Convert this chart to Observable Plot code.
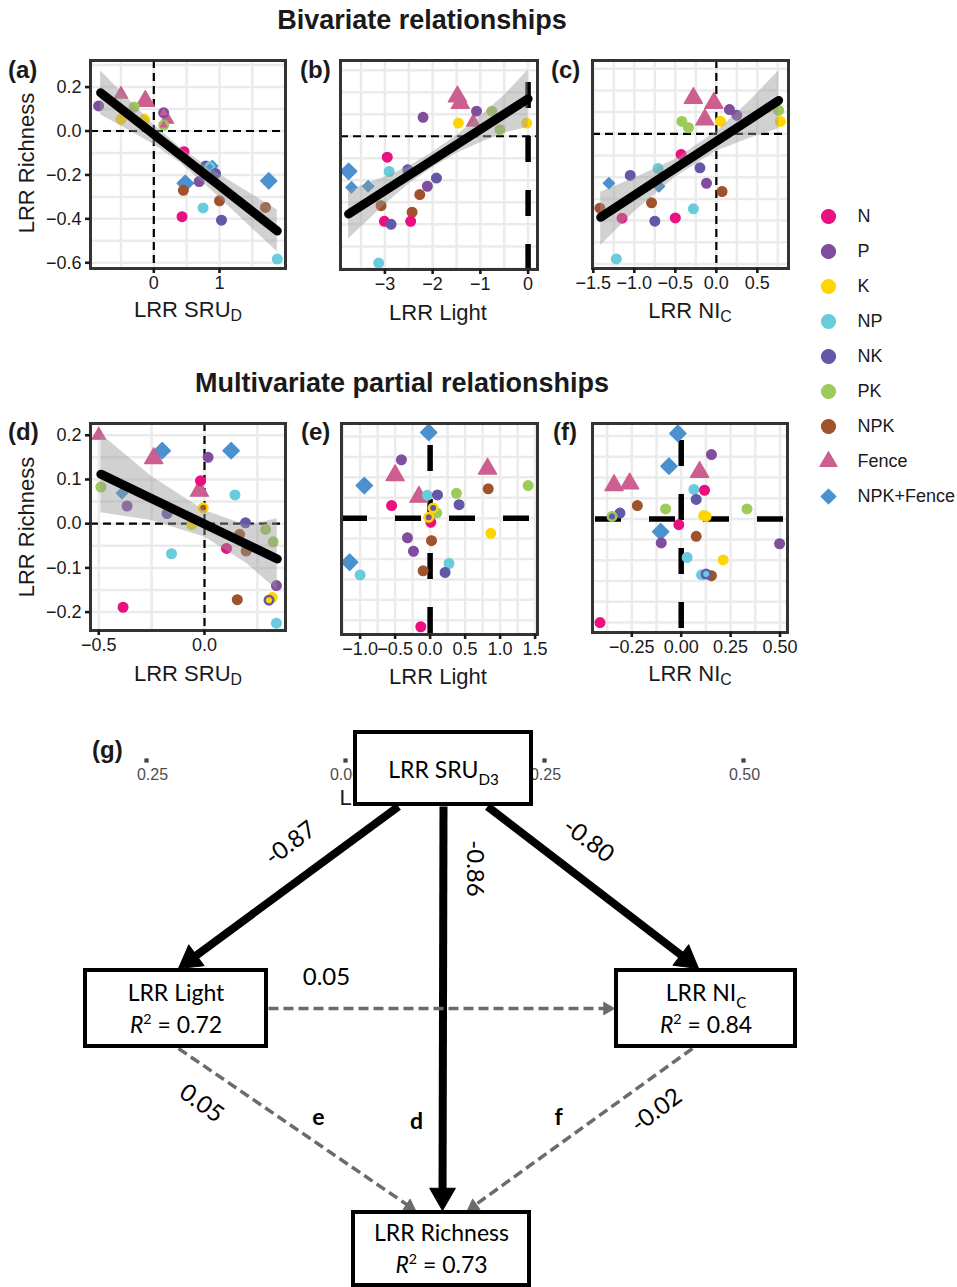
<!DOCTYPE html>
<html><head><meta charset="utf-8">
<script src="https://cdn.jsdelivr.net/npm/d3@7"></script>
<script src="https://cdn.jsdelivr.net/npm/@observablehq/plot@0.6"></script>
<style>
body{margin:0;background:#fff;}
#root{position:relative;width:957px;height:1287px;overflow:hidden;font-family:"Liberation Sans",Arial,Helvetica,sans-serif;color:#1a1a1a;background:#fff;}
#root svg{position:absolute;max-width:none;}
.title{position:absolute;font-weight:bold;font-size:27px;transform:translate(-50%,-50%);white-space:nowrap;}
.plab{position:absolute;font-weight:bold;font-size:24px;transform:translateY(-50%);white-space:nowrap;}
.xt{position:absolute;font-size:22px;transform:translate(-50%,-50%);white-space:nowrap;}
.yt{position:absolute;font-size:22px;transform:translate(-50%,-50%) rotate(-90deg);white-space:nowrap;}
sub{font-size:72%;vertical-align:-0.28em;line-height:0;}
</style></head><body><div id="root"></div>
<script>
// ---------------- DATA ----------------
const treatments = ["N","P","K","NP","NK","PK","NPK","Fence","NPK+Fence"];
const trtColors  = ["#EC0F80","#7F4E9F","#FFD500","#68CCDC","#6158A8","#9DCB5A","#A0522D","#CC5E90","#4B90CF"];
const trtSymbols = ["circle","circle","circle","circle","circle","circle","circle","triangle","diamond2"];

// [x, y, treatment, marker class (0 normal, 1 large, 2 small overlapping)]
const panelA = [
  [-0.84,0.114,"P",0],[-0.50,0.167,"Fence",0],[-0.30,0.109,"PK",0],[-0.13,0.136,"Fence",1],
  [-0.50,0.053,"K",0],[-0.14,0.053,"K",0],[0.15,0.083,"P",0],[0.15,0.083,"Fence",2],
  [0.20,0.053,"Fence",0],[0.15,0.027,"PK",0],[0.15,0.027,"Fence",2],[0.46,-0.094,"N",0],
  [0.79,-0.159,"NK",0],[0.89,-0.16,"NPK+Fence",0],[0.85,-0.164,"NP",0],[0.85,-0.164,"NPK+Fence",2],
  [0.94,-0.194,"NK",0],[0.45,-0.27,"NPK",0],[0.48,-0.238,"NPK+Fence",1],[0.69,-0.23,"P",0],
  [0.75,-0.35,"NP",0],[0.43,-0.39,"N",0],[1.0,-0.318,"NPK",0],[1.03,-0.406,"NK",0],
  [1.75,-0.227,"NPK+Fence",1],[1.70,-0.348,"NPK",0],[1.88,-0.583,"NP",0]
];
const lineA = [[-0.81,0.174],[1.88,-0.455]];
const bandA = [[-0.81,0.074,0.274],[-0.4,0.007,0.149],[0,-0.061,0.029],[0.4,-0.145,-0.075],[0.8,-0.248,-0.158],[1.2,-0.360,-0.234],[1.88,-0.55,-0.36]];

const panelB = [
  [-1.48,0.18,"Fence",1],[-1.42,0.15,"Fence",1],[-1.15,0.064,"Fence",0],[-1.08,0.114,"P",0],
  [-0.76,0.114,"PK",0],[-0.59,0.03,"PK",0],[-1.46,0.06,"K",0],[-0.03,0.06,"K",0],
  [-2.2,0.086,"P",0],[-2.95,-0.095,"N",0],[-2.91,-0.16,"NP",0],[-2.52,-0.152,"NK",0],
  [-3.76,-0.159,"NPK+Fence",1],[-3.70,-0.232,"NPK+Fence",0],[-3.35,-0.227,"NPK+Fence",0],
  [-1.92,-0.19,"NK",0],[-2.11,-0.227,"P",0],[-2.27,-0.265,"NPK",0],[-3.08,-0.315,"NPK",0],
  [-2.43,-0.345,"NPK",0],[-3.01,-0.386,"N",0],[-2.87,-0.40,"NK",0],[-2.46,-0.386,"N",0],
  [-3.13,-0.576,"NP",0]
];
const lineB = [[-3.76,-0.353],[0,0.17]];
const bandB = [[-3.76,-0.467,-0.247],[-3.0,-0.31,-0.185],[-2.5,-0.218,-0.138],[-2.0,-0.143,-0.073],[-1.5,-0.078,0.002],[-1.0,-0.029,0.091],[-0.5,0.015,0.185],[0,0.04,0.30]];

const panelC = [
  [-0.28,0.165,"Fence",1],[-0.03,0.142,"Fence",1],[-0.14,0.065,"Fence",1],[0.16,0.112,"P",0],
  [0.25,0.085,"P",0],[0.76,0.108,"PK",0],[0.78,0.057,"K",0],[0.05,0.058,"K",0],
  [-0.42,0.057,"PK",0],[-0.34,0.028,"PK",0],[-0.43,-0.095,"N",0],[-0.71,-0.16,"NP",0],
  [-0.20,-0.157,"NK",0],[-1.05,-0.192,"NK",0],[-1.31,-0.228,"NPK+Fence",0],[-0.70,-0.242,"NPK+Fence",0],
  [-0.12,-0.228,"P",0],[0.07,-0.266,"NPK",0],[-0.79,-0.318,"NPK",0],[-1.42,-0.343,"NPK",0],
  [-1.15,-0.389,"N",0],[-0.75,-0.403,"NK",0],[-0.50,-0.388,"N",0],[-0.28,-0.346,"NP",0],
  [-1.22,-0.577,"NP",0]
];
const lineC = [[-1.41,-0.385],[0.76,0.154]];
const bandC = [[-1.41,-0.515,-0.27],[-1.0,-0.36,-0.205],[-0.5,-0.2,-0.118],[0,-0.08,0.01],[0.4,-0.022,0.148],[0.76,0.023,0.29]];

const panelD = [
  [-0.5,0.20,"Fence",0],[-0.24,0.148,"Fence",1],[-0.20,0.165,"NPK+Fence",1],[0.126,0.165,"NPK+Fence",1],
  [0.017,0.15,"P",0],[-0.024,0.074,"Fence",1],[-0.019,0.097,"N",0],[0.144,0.065,"NP",0],
  [-0.49,0.083,"PK",0],[-0.39,0.069,"NPK+Fence",0],[-0.366,0.04,"P",0],[-0.177,0.023,"NK",0],
  [-0.006,0.036,"K",0],[-0.006,0.036,"NPK",2],[-0.06,-0.002,"K",0],[0.194,0.002,"NK",0],
  [0.289,-0.013,"PK",0],[0.166,-0.024,"NPK",0],[0.325,-0.041,"PK",0],[0.104,-0.056,"N",0],
  [0.197,-0.062,"NPK",0],[-0.156,-0.068,"NP",0],[0.34,-0.14,"P",0],[0.32,-0.167,"K",0],
  [0.305,-0.173,"NK",0],[0.305,-0.173,"K",2],[0.155,-0.172,"NPK",0],[-0.385,-0.189,"N",0],
  [0.34,-0.225,"NP",0]
];
const lineD = [[-0.49,0.112],[0.344,-0.08]];
const bandD = [[-0.49,0.025,0.203],[-0.25,0.007,0.107],[0,-0.03,0.03],[0.2,-0.09,-0.004],[0.344,-0.15,0.011]];

const panelE = [
  [-0.02,0.21,"NPK+Fence",1],[-0.41,0.143,"P",0],[-0.5,0.105,"Fence",1],[0.82,0.121,"Fence",1],
  [-0.94,0.08,"NPK+Fence",1],[1.4,0.08,"PK",0],[0.83,0.072,"NPK",0],[-0.16,0.052,"Fence",1],
  [-0.04,0.056,"NP",0],[0.105,0.057,"NK",0],[0.376,0.061,"PK",0],[-0.55,0.031,"N",0],
  [0.414,0.033,"NK",0],[0.095,0.013,"PK",0],[0.043,0.025,"K",0],[0.043,0.025,"NK",2],
  [0.01,-0.01,"N",0],[-0.02,0.002,"K",0],[-0.02,0.002,"P",2],[0.867,-0.037,"K",0],
  [-0.324,-0.048,"P",0],[0.02,-0.055,"NPK",0],[-0.238,-0.081,"P",0],[-1.15,-0.108,"NPK+Fence",1],
  [0.27,-0.111,"NP",0],[-1.0,-0.139,"NP",0],[-0.1,-0.129,"NPK",0],[0.214,-0.133,"NK",0],
  [-0.133,-0.266,"N",0]
];

const panelF = [
  [-0.017,0.206,"NPK+Fence",1],[0.153,0.155,"P",0],[-0.062,0.127,"NPK+Fence",1],[0.093,0.113,"Fence",1],
  [-0.34,0.081,"Fence",1],[-0.261,0.085,"Fence",1],[0.064,0.071,"NP",0],[0.118,0.069,"N",0],
  [0.076,0.047,"NK",0],[-0.222,0.032,"NPK",0],[-0.079,0.024,"PK",0],[0.333,0.024,"PK",0],
  [-0.31,0.014,"NK",0],[-0.35,0.006,"PK",0],[-0.35,0.006,"NK",2],[0.114,0.008,"K",0],
  [0.126,0.006,"K",0],[-0.012,-0.014,"N",0],[-0.104,-0.031,"NPK+Fence",1],[-0.101,-0.058,"P",0],
  [0.076,-0.042,"NPK",0],[0.498,-0.06,"P",0],[0.03,-0.093,"NP",0],[0.212,-0.099,"K",0],
  [0.103,-0.135,"NP",0],[0.153,-0.137,"NPK",0],[0.126,-0.133,"NK",0],[0.126,-0.133,"NP",2],
  [-0.411,-0.25,"N",0]
];

// tick values / labels
const xTicksA = [0,1], yTicksA = [-0.6,-0.4,-0.2,0,0.2];
const xTicksB = [-3,-2,-1,0];
const xTicksC = [-1.5,-1.0,-0.5,0,0.5];
const xTicksD = [-0.5,0], yTicksD = [-0.2,-0.1,0,0.1,0.2];
const xTicksE = [-1.0,-0.5,0,0.5,1.0,1.5];
const xTicksF = [-0.25,0,0.25,0.5];
const gridXA = [-0.5,0,0.5,1,1.5], gridYA = [-0.6,-0.5,-0.4,-0.3,-0.2,-0.1,0,0.1,0.2,0.3];
const gridXB = [-3.5,-3,-2.5,-2,-1.5,-1,-0.5,0];
const gridXC = [-1.5,-1.25,-1,-0.75,-0.5,-0.25,0,0.25,0.5,0.75];
const gridXD = [-0.5,-0.25,0,0.25], gridYD = [-0.2,-0.15,-0.1,-0.05,0,0.05,0.1,0.15,0.2];
const gridXE = [-1.25,-1,-0.75,-0.5,-0.25,0,0.25,0.5,0.75,1,1.25,1.5];
const gridYE = [-0.25,-0.2,-0.15,-0.1,-0.05,0,0.05,0.1,0.15,0.2];
const gridXF = [-0.375,-0.25,-0.125,0,0.125,0.25,0.375,0.5];

// path diagram
const nodeTitles = ["LRR SRU_{D3}","LRR Light","LRR NI_{C}","LRR Richness"];
const nodeR2     = ["","*R*^{2} = 0.72","*R*^{2} = 0.84","*R*^{2} = 0.73"];
const pathFrom   = [0,0,0,1,1,2];
const pathTo     = [1,2,3,2,3,3];
const pathCoef   = ["-0.87","-0.80","-0.86","0.05","0.05","-0.02"];
const pathSig    = [true,true,true,false,false,false];
const pathPanel  = ["","","d","","e","f"];
const strayTicks = ["0.25","0.00","0.25","0.50"];

// ---------------- LAYOUT ----------------
const root = document.getElementById("root");
const FONT = "Liberation Sans, Arial, Helvetica, sans-serif";
const DFONT = "Lato, 'Open Sans', sans-serif";

function html(cls, left, top, content) {
  const d = document.createElement("div");
  d.className = cls; d.style.left = left + "px"; d.style.top = top + "px";
  d.innerHTML = content; root.appendChild(d);
}
function place(svg, left, top) {
  svg.style.left = left + "px"; svg.style.top = top + "px";
  root.appendChild(svg);
}
function richText(svg) {
  svg.querySelectorAll("text").forEach(t => {
    const s = t.textContent;
    if (!/(_\{|\^\{|\*)/.test(s)) return;
    const fs = parseFloat(getComputedStyle(t).fontSize) || 20;
    const parts = s.split(/(_\{[^}]*\}|\^\{[^}]*\}|\*[^*]*\*)/).filter(p => p !== "");
    while (t.firstChild) t.removeChild(t.firstChild);
    let shift = 0;
    parts.forEach(p => {
      const ts = document.createElementNS("http://www.w3.org/2000/svg", "tspan");
      let dy = 0, txt = p;
      if (p.startsWith("_{")) { txt = p.slice(2, -1); ts.setAttribute("font-size", fs * 0.66); dy = 0.32 * fs; }
      else if (p.startsWith("^{")) { txt = p.slice(2, -1); ts.setAttribute("font-size", fs * 0.62); dy = -0.4 * fs; }
      else if (p.startsWith("*")) { txt = p.slice(1, -1); ts.setAttribute("font-style", "italic"); }
      const d = dy - shift;
      if (d) ts.setAttribute("dy", d);
      shift = dy;
      ts.textContent = txt;
      t.appendChild(ts);
    });
  });
}

function markerR(d) {
  if (d[3] === 2) return 2.4;
  if (d[2] === "Fence") return d[3] ? 6.8 : 5.0;
  if (d[2] === "NPK+Fence") return d[3] ? 7.4 : 5.1;
  return 4.9;
}
function zero(thick, offset) {
  return thick
    ? {stroke: "#000", strokeWidth: 5.5, strokeDasharray: "26,28", strokeDashoffset: offset || 0}
    : {stroke: "#000", strokeWidth: 2.2, strokeDasharray: "8,5"};
}

function scatter(cfg) {
  const [L, R, T, B] = cfg.frame;
  const ml = 64, mr = 8, mt = 8, mb = 40;
  const width = R - L + ml + mr, height = B - T + mt + mb;
  const gridStyle = {stroke: "#EBEBEB", strokeOpacity: 1, strokeWidth: 2.5};
  const marks = [
    Plot.gridX(cfg.gx, gridStyle),
    Plot.gridY(cfg.gy, gridStyle),
    Plot.ruleX([0], zero(cfg.zx, cfg.zxo)),
    Plot.ruleY([0], zero(cfg.zy, cfg.zyo)),
    Plot.dot(cfg.pts, {x: d => d[0], y: d => d[1], fill: d => d[2], stroke: d => d[2], symbol: d => d[2],
      r: d => markerR(d), strokeWidth: 1.2, strokeLinejoin: "round"})
  ];
  if (cfg.band) marks.push(Plot.areaY(cfg.band, {x: d => d[0], y1: d => d[1], y2: d => d[2], fill: "#9a9a9a", fillOpacity: 0.45}));
  if (cfg.line) marks.push(Plot.line(cfg.line, {x: d => d[0], y: d => d[1], stroke: "#000", strokeWidth: 9}));
  marks.push(Plot.frame({stroke: "#333", strokeWidth: 3}));
  marks.push(Plot.axisX(cfg.xt, {tickSize: 5, tickPadding: 3, tickFormat: cfg.xf, fontSize: 18, color: "#1a1a1a", strokeWidth: 2.6, label: null}));
  if (cfg.yt) marks.push(Plot.axisY(cfg.yt, {tickSize: 5, tickPadding: 4, tickFormat: cfg.yf, fontSize: 18, color: "#1a1a1a", strokeWidth: 2.6, label: null}));
  const yScale = {domain: cfg.yd, label: null};
  if (!cfg.yt) yScale.axis = null;
  const svg = Plot.plot({
    width, height, marginLeft: ml, marginRight: mr, marginTop: mt, marginBottom: mb,
    x: {domain: cfg.xd, label: null}, y: yScale,
    color: {domain: treatments, range: trtColors},
    symbol: {domain: treatments, range: trtSymbols},
    r: {type: "identity"},
    style: {fontFamily: FONT, fontSize: "18px", color: "#1a1a1a", background: "transparent", overflow: "visible"},
    marks
  });
  place(svg, L - ml, T - mt);
}

const f1 = d3.format(".1f"), f0 = d3.format("d"), f2 = d3.format(".2f");

scatter({frame: [90,285,60,268], xd: [-0.964,2.005], yd: [-0.626,0.321], pts: panelA, line: lineA, band: bandA,
  gx: gridXA, gy: gridYA, xt: xTicksA, xf: f0, yt: yTicksA, yf: f1});
scatter({frame: [340,537,60,269], xd: [-3.93,0.197], yd: [-0.605,0.344], pts: panelB, line: lineB, band: bandB,
  gx: gridXB, gy: gridYA, xt: xTicksB, xf: f0, zx: true, zxo: 32});
scatter({frame: [592,788,60,268], xd: [-1.51,0.88], yd: [-0.621,0.338], pts: panelC, line: lineC, band: bandC,
  gx: gridXC, gy: gridYA, xt: xTicksC, xf: f1});
scatter({frame: [90,285,423,630], xd: [-0.539,0.383], yd: [-0.2416,0.2266], pts: panelD, line: lineD, band: bandD,
  gx: gridXD, gy: gridYD, xt: xTicksD, xf: f1, yt: yTicksD, yf: f1});
scatter({frame: [341,537,423,634], xd: [-1.266,1.534], yd: [-0.285,0.232], pts: panelE,
  gx: gridXE, gy: gridYE, xt: xTicksE, xf: f1, zx: true, zxo: 32, zy: true, zyo: 0});
scatter({frame: [592,787,423,632], xd: [-0.449,0.538], yd: [-0.274,0.23], pts: panelF,
  gx: gridXF, gy: gridYE, xt: xTicksF, xf: f2, zx: true, zxo: 37, zy: true, zyo: 51});

// titles and labels
html("title", 422, 20, "Bivariate relationships");
html("title", 402, 383, "Multivariate partial relationships");
[["(a)",8,70],["(b)",300,70],["(c)",551,70],["(d)",8,432],["(e)",301,432],["(f)",553,432]]
  .forEach(([t,x,y]) => html("plab", x, y, t));
html("yt", 27, 163, "LRR Richness");
html("yt", 27, 527, "LRR Richness");
html("xt", 188, 310, "LRR SRU<sub>D</sub>");
html("xt", 438, 313, "LRR Light");
html("xt", 690, 311, "LRR NI<sub>C</sub>");
html("xt", 188, 674, "LRR SRU<sub>D</sub>");
html("xt", 438, 677, "LRR Light");
html("xt", 690, 674, "LRR NI<sub>C</sub>");

// legend
{
  const svg = Plot.plot({
    width: 150, height: 320, margin: 0,
    y: {type: "point", domain: treatments, range: [21, 301], padding: 0, axis: null},
    color: {domain: treatments, range: trtColors},
    symbol: {domain: treatments, range: trtSymbols},
    r: {type: "identity"},
    style: {fontFamily: FONT, fontSize: "18px", color: "#1a1a1a", background: "transparent", overflow: "visible"},
    marks: [
      Plot.dot(treatments, {y: d => d, frameAnchor: "left", dx: 21, fill: d => d, stroke: d => d, symbol: d => d,
        r: d => d === "Fence" ? 6.3 : d === "NPK+Fence" ? 6.6 : 7, strokeWidth: 1.2, strokeLinejoin: "round"}),
      Plot.text(treatments, {y: d => d, text: d => d, frameAnchor: "left", dx: 50, textAnchor: "start", fontSize: 18, fill: "#1a1a1a"})
    ]
  });
  place(svg, 807, 195);
}

// path diagram
{
  const boxCx = [443, 175.5, 705.5, 441], boxCy = [768, 1008, 1008, 1248.5];
  const boxW = [176, 181, 179, 176], boxH = [72, 76, 76, 73];
  const pathStart = [[398,806],[487,806],[443,806],[268,1008],[178,1048],[692,1048]];
  const pathTip = [[178,968],[698,968],[442,1210],[614,1008],[415,1210],[467,1210]];
  const labX = [290,588,474,326,201,656], labY = [843,840,868,977,1103,1110], labRot = [-37,37,90,0,36,-37];
  const letX = [0,0,416,0,318,558], letY = [0,0,1121,0,1117,1117];
  const strayX = [152,345,545,744], strayTickX = [146,345,544,743];

  const nodes = nodeTitles.map((t, i) => ({title: t, r2: nodeR2[i], cx: boxCx[i], cy: boxCy[i], w: boxW[i], h: boxH[i]}));
  const links = pathFrom.map((f, i) => {
    const [x1, y1] = pathStart[i], [x2, y2] = pathTip[i];
    const len = Math.hypot(x2 - x1, y2 - y1), ux = (x2 - x1) / len, uy = (y2 - y1) / len;
    const hr = pathSig[i] ? 9.5 : 4.6;
    return {from: f, to: pathTo[i], coef: pathCoef[i], sig: pathSig[i], panel: pathPanel[i],
      x1, y1, xe: x2 - ux * hr * 1.7, ye: y2 - uy * hr * 1.7,
      hx: x2 - ux * hr * 1.555, hy: y2 - uy * hr * 1.555, hr,
      rot: Math.atan2(ux, -uy) * 180 / Math.PI,
      lx: labX[i], ly: labY[i], lr: labRot[i], px: letX[i], py: letY[i]};
  });
  const solid = links.filter(d => d.sig), dashed = links.filter(d => !d.sig);
  const svg = Plot.plot({
    width: 957, height: 587, margin: 0,
    x: {domain: [0, 957], range: [0, 957], axis: null},
    y: {domain: [700, 1287], range: [0, 587], axis: null},
    style: {fontFamily: DFONT, fontSize: "23px", color: "#000", background: "transparent", overflow: "visible"},
    marks: [
      Plot.dot(strayTickX, {x: d => d, y: 760, symbol: "square", r: 2.4, fill: "#444"}),
      Plot.text(strayTicks, {x: (d, i) => strayX[i], y: 774, text: d => d, fontFamily: FONT, fontSize: 16, fill: "#4d4d4d"}),
      Plot.text(["LRR NI"], {x: 339, y: 797, text: d => d, textAnchor: "start", fontFamily: FONT, fontSize: 22, fill: "#1a1a1a"}),
      Plot.link(solid, {x1: "x1", y1: "y1", x2: "xe", y2: "ye", stroke: "#000", strokeWidth: 8}),
      Plot.dot(solid, {x: "hx", y: "hy", rotate: "rot", symbol: "triangle", r: 9.5, fill: "#000", stroke: "#000", strokeWidth: 1, strokeLinejoin: "round"}),
      Plot.link(dashed, {x1: "x1", y1: "y1", x2: "xe", y2: "ye", stroke: "#6b6b6b", strokeWidth: 3.5, strokeDasharray: "10,5"}),
      Plot.dot(dashed, {x: "hx", y: "hy", rotate: "rot", symbol: "triangle", r: 4.6, fill: "#6b6b6b", stroke: "#6b6b6b", strokeWidth: 1, strokeLinejoin: "round"}),
      Plot.rect(nodes, {x1: d => d.cx - d.w / 2, x2: d => d.cx + d.w / 2, y1: d => d.cy - d.h / 2, y2: d => d.cy + d.h / 2,
        fill: "#fff", stroke: "#000", strokeWidth: 4}),
      Plot.text(nodes.filter(d => !d.r2), {x: "cx", y: d => d.cy + 2, text: "title", fontSize: 23}),
      Plot.text(nodes.filter(d => d.r2), {x: "cx", y: d => d.cy - 15, text: "title", fontSize: 23}),
      Plot.text(nodes.filter(d => d.r2), {x: "cx", y: d => d.cy + 17, text: "r2", fontSize: 23}),
      Plot.text(links, {x: "lx", y: "ly", rotate: "lr", text: "coef", fontSize: 24}),
      Plot.text(links.filter(d => d.panel), {x: "px", y: "py", text: "panel", fontSize: 23, fontWeight: "bold"})
    ]
  });
  place(svg, 0, 700);
  richText(svg);
  html("plab", 92, 750, "(g)");
}
</script></body></html>
